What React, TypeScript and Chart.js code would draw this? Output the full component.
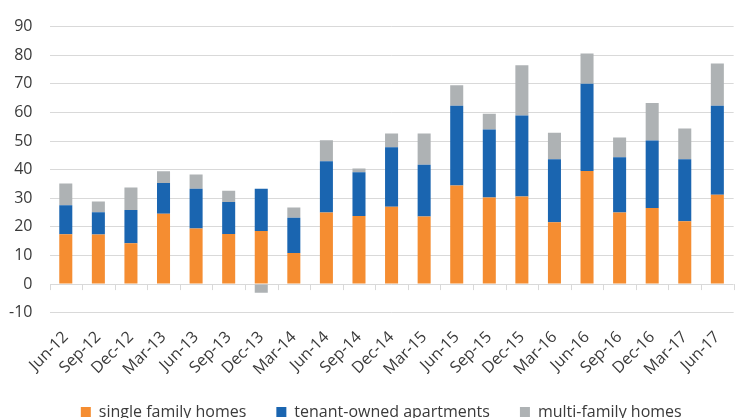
import React, { useEffect, useRef } from "react";
import { Chart, registerables } from "chart.js";

Chart.register(...registerables);

const categories = [
  "Jun-12", "Sep-12", "Dec-12", "Mar-13", "Jun-13", "Sep-13", "Dec-13",
  "Mar-14", "Jun-14", "Sep-14", "Dec-14", "Mar-15", "Jun-15", "Sep-15",
  "Dec-15", "Mar-16", "Jun-16", "Sep-16", "Dec-16", "Mar-17", "Jun-17",
];

const singleFamilyHomes = [
  17.4, 17.3, 14.3, 24.6, 19.4, 17.5, 18.6, 10.9, 25.0, 23.8, 27.0,
  23.6, 34.5, 30.3, 30.6, 21.6, 39.5, 25.0, 26.6, 22.0, 31.2,
];

const tenantOwnedApartments = [
  10.2, 7.8, 11.6, 10.7, 13.9, 11.2, 14.7, 12.3, 17.9, 15.3, 20.8,
  18.1, 27.8, 23.7, 28.3, 22.0, 30.5, 19.3, 23.6, 21.6, 31.1,
];

const multiFamilyHomes = [
  7.6, 3.8, 7.9, 4.1, 5.0, 3.9, -3.0, 3.6, 7.4, 1.3, 4.8,
  10.9, 7.2, 5.5, 17.6, 9.3, 10.6, 6.9, 13.1, 10.8, 14.8,
];

const yMin = -10;
const yMax = 90;
const yStep = 10;

const FONT = "'Open Sans', 'DejaVu Sans', sans-serif";
const TEXT = "#3a3a3a";
const GRID = "#d9d9d9";

const zeroAxisTicks = {
  id: "zeroAxisTicks",
  afterLayout(chart: any) {
    const l = chart.legend;
    if (l) {
      l.left += 10;
      l.right += 10;
    }
  },
  beforeDatasetsDraw(chart: any) {
    const x = chart.scales.x;
    const y = chart.scales.y;
    const ctx = chart.ctx;
    const y0 = y.getPixelForValue(0);
    const n = categories.length;
    const w = (x.right - x.left) / n;
    ctx.save();
    ctx.strokeStyle = GRID;
    ctx.lineWidth = 1;
    ctx.beginPath();
    for (let i = 0; i <= n; i++) {
      const px = Math.round(x.left + i * w) + 0.5;
      ctx.moveTo(px, y0);
      ctx.lineTo(px, y0 + 6);
    }
    ctx.stroke();
    ctx.restore();
  },
};

export default function App() {
  const ref = useRef<HTMLCanvasElement | null>(null);

  useEffect(() => {
    if (!ref.current) return;
    const chart = new Chart(ref.current, {
      type: "bar",
      data: {
        labels: categories,
        datasets: [
          {
            label: "single family homes",
            data: singleFamilyHomes,
            backgroundColor: "#f58d31",
            barPercentage: 0.4,
            categoryPercentage: 1,
          },
          {
            label: "tenant-owned apartments",
            data: tenantOwnedApartments,
            backgroundColor: "#1a65b0",
            barPercentage: 0.4,
            categoryPercentage: 1,
          },
          {
            label: "multi-family homes",
            data: multiFamilyHomes,
            backgroundColor: "#aeb2b4",
            barPercentage: 0.4,
            categoryPercentage: 1,
          },
        ],
      },
      options: {
        animation: false,
        responsive: false,
        maintainAspectRatio: false,
        layout: { padding: { top: 22.7, left: 0, right: 3.5, bottom: 0 } },
        plugins: {
          tooltip: { enabled: false },
          legend: {
            position: "bottom",
            labels: {
              boxWidth: 10,
              boxHeight: 10,
              padding: 30,
              color: TEXT,
              font: { family: FONT, size: 16 },
            },
          },
        },
        scales: {
          x: {
            stacked: true,
            grid: { display: false, drawTicks: false },
            border: { display: false },
            ticks: {
              autoSkip: false,
              maxRotation: 45,
              minRotation: 45,
              padding: 15,
              color: TEXT,
              font: { family: FONT, size: 16 },
            },
            afterFit: (scale: any) => {
              scale.height = 61.3;
            },
          },
          y: {
            stacked: true,
            min: yMin,
            max: yMax,
            ticks: {
              stepSize: yStep,
              padding: 17,
              color: TEXT,
              font: { family: FONT, size: 16 },
            },
            grid: { color: GRID, lineWidth: 1, drawTicks: false },
            border: { display: false },
            afterFit: (scale: any) => {
              scale.width = 49.5;
            },
          },
        },
      },
      plugins: [zeroAxisTicks],
    });
    return () => chart.destroy();
  }, []);

  return (
    <div style={{ position: "fixed", left: 0, top: 0, width: 746, height: 430, background: "#fff" }}>
      <canvas ref={ref} width={746} height={430} style={{ width: 746, height: 430, display: "block" }} />
    </div>
  );
}
